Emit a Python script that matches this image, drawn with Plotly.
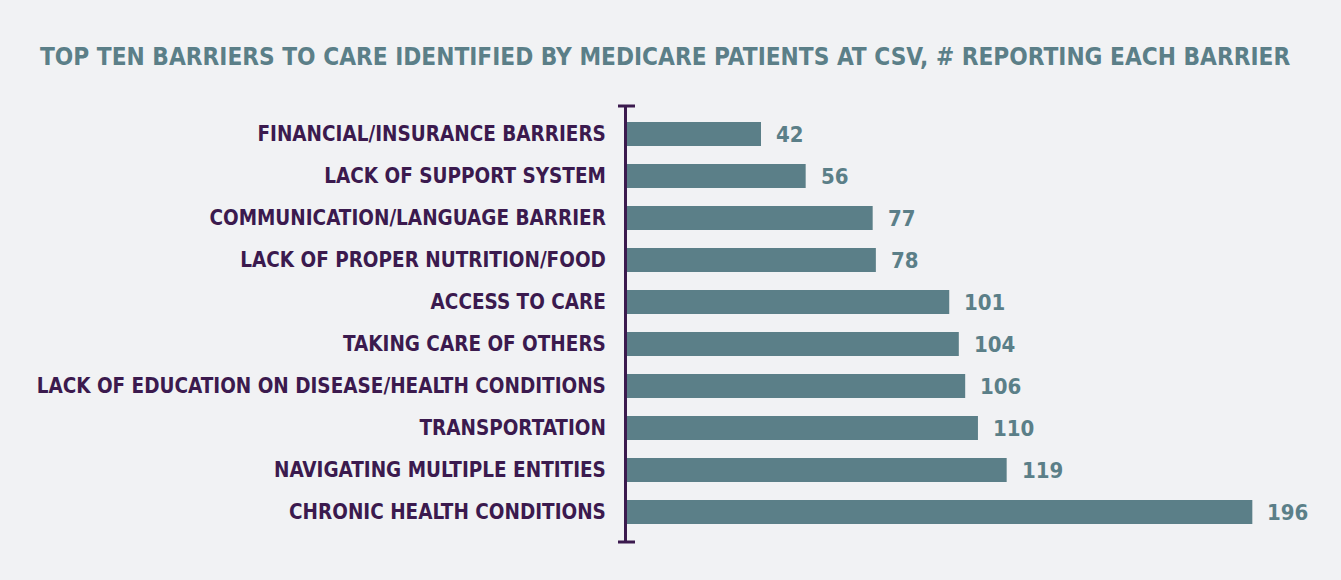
import plotly.graph_objects as go

# Barriers to care, top to bottom, with number of patients reporting each
barriers = [
    "FINANCIAL/INSURANCE BARRIERS",
    "LACK OF SUPPORT SYSTEM",
    "COMMUNICATION/LANGUAGE BARRIER",
    "LACK OF PROPER NUTRITION/FOOD",
    "ACCESS TO CARE",
    "TAKING CARE OF OTHERS",
    "LACK OF EDUCATION ON DISEASE/HEALTH CONDITIONS",
    "TRANSPORTATION",
    "NAVIGATING MULTIPLE ENTITIES",
    "CHRONIC HEALTH CONDITIONS",
]
counts = [42, 56, 77, 78, 101, 104, 106, 110, 119, 196]

TEAL = "#5b7f88"
PURPLE = "#3b1a4e"
BG = "#f1f2f4"
FONT = "DejaVu Sans Condensed, Liberation Sans Narrow, Arial Narrow, sans-serif"

fig = go.Figure(
    go.Bar(
        x=counts,
        y=barriers,
        orientation="h",
        width=0.57,
        marker=dict(color=TEAL, line=dict(width=0)),
        hoverinfo="x+y",
    )
)

# value labels to the right of each bar
for b, c in zip(barriers, counts):
    fig.add_annotation(
        x=c, y=b, text=f"<b>{c}</b>", showarrow=False,
        xanchor="left", yanchor="middle", xshift=13,
        font=dict(family=FONT, size=22, color=TEAL),
    )

# T-shaped end caps on the category axis line
for yy in (0, 1):
    fig.add_shape(
        type="line", xref="paper", yref="paper",
        xsizemode="pixel", xanchor=0, x0=-9, x1=8,
        y0=yy, y1=yy,
        line=dict(color=PURPLE, width=3),
    )

fig.update_layout(
    width=1341,
    height=580,
    margin=dict(l=627, r=44, t=106, b=38),
    paper_bgcolor=BG,
    plot_bgcolor=BG,
    showlegend=False,
    bargap=0.43,
    title=dict(
        text="<b>TOP TEN BARRIERS TO CARE IDENTIFIED BY MEDICARE PATIENTS AT CSV, # REPORTING EACH BARRIER</b>",
        xref="container", yref="container",
        x=40 / 1341, xanchor="left",
        y=1 - 57 / 580, yanchor="middle",
        font=dict(family=FONT, size=24.2, color=TEAL),
    ),
    xaxis=dict(
        range=[0, 210],
        visible=False,
        showgrid=False,
        zeroline=False,
        automargin=False,
    ),
    yaxis=dict(
        categoryorder="array",
        categoryarray=barriers,
        range=[9.714, -0.667],
        showline=True,
        linecolor=PURPLE,
        linewidth=3,
        showgrid=False,
        zeroline=False,
        automargin=False,
        ticks="",
        ticklabelstandoff=14,
        tickprefix="<b>",
        ticksuffix="</b>",
        tickfont=dict(family=FONT, size=20.5, color=PURPLE),
    ),
)

fig.write_html("out.html")
